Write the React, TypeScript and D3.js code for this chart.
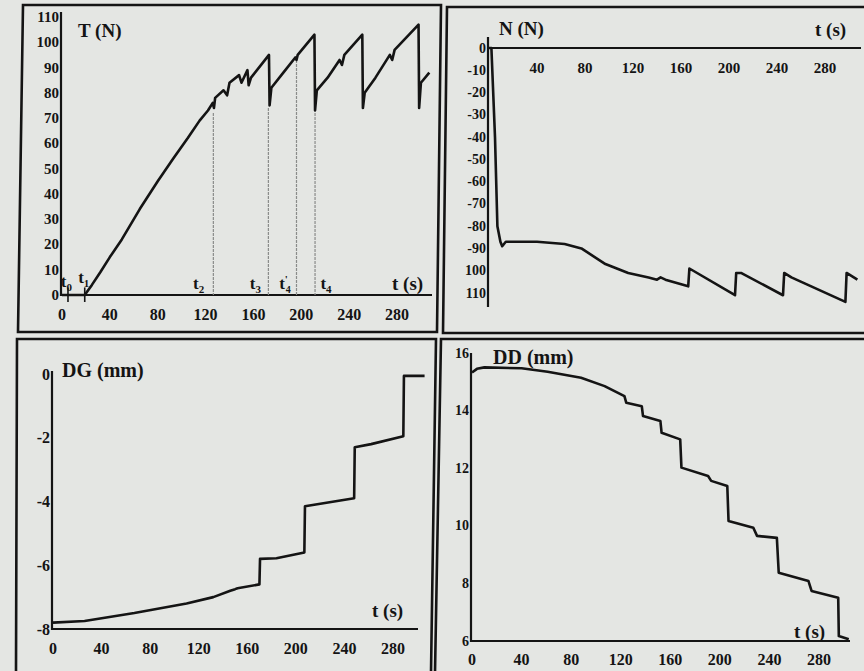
import * as d3 from 'd3';

// ---- data ----
const timeTicks = [0, 40, 80, 120, 160, 200, 240, 280];
const timeTicksN = [40, 80, 120, 160, 200, 240, 280];

// T (N)
const tensionTicks = [0, 10, 20, 30, 40, 50, 60, 70, 80, 90, 100, 110];
const tensionTime = [0, 19, 25, 32, 40, 50, 65, 80, 93, 105, 115, 122, 126, 127, 128, 135, 138, 140, 148, 150, 155, 156, 158, 173, 173.5, 175, 185, 195, 196, 197, 211, 211.5, 213, 222, 232, 234, 236, 251, 251.5, 253, 262, 274, 276, 278, 298, 298.5, 300, 307];
const tensionValue = [0, 0, 4, 9, 15, 22, 34, 45, 54, 62, 69, 73, 76, 74, 78, 81, 79, 84, 87, 84, 89, 83, 86, 95, 75, 82, 88, 94, 93, 95, 103, 73, 81, 86, 93, 91, 95, 103, 74, 80, 86, 95, 93, 97, 107, 74, 84, 88];

// event markers on the T panel
const markerSub = ['0', '1', '2', '3', '4', '4'];
const markerPrime = [false, false, false, false, true, false];
const markerLabelTime = [4, 18.5, 114.5, 162, 186.5, 221];
const markerLabelValue = [3.2, 4.7, 2.4, 2.4, 2.4, 2.4];
const markerLineTime = [126.5, 172.5, 196, 211.5];
const markerLineTop = [72, 74, 93, 72];
const markerTickTime = [5, 19];

// N (N)
const normalTicks = [0, -10, -20, -30, -40, -50, -60, -70, -80, -90, -100, -110];
const normalTickLabels = ['0', '-10', '-20', '-30', '-40', '-50', '-60', '-70', '-80', '-90', '100', '110'];
const normalTime = [0, 2, 5, 7, 9.5, 11, 14, 40, 63, 77, 97, 116, 133, 140, 143, 147, 166, 167, 205, 206, 210, 245, 246, 252, 297, 298, 307];
const normalValue = [0, 0, -40, -80, -87, -89, -87, -87, -88, -90, -97, -101, -103, -104, -103, -104, -107, -99, -111, -101, -101, -111, -101, -103, -114, -101, -104];

// DG (mm)
const dgTicks = [0, -2, -4, -6, -8];
const dgTime = [0, 26, 67, 110, 132, 146, 150, 152, 170, 170.5, 184, 207, 207.5, 248, 248.5, 262, 288.5, 289, 306];
const dgValue = [-7.8, -7.75, -7.5, -7.2, -7.0, -6.8, -6.75, -6.72, -6.6, -5.8, -5.78, -5.6, -4.15, -3.9, -2.3, -2.2, -1.95, -0.06, -0.06];

// DD (mm)
const ddTicks = [6, 8, 10, 12, 14, 16];
const ddTime = [0, 4, 10, 40, 61, 88, 107, 123, 124.5, 137, 138, 152, 153, 168, 169, 190.5, 193, 206, 207, 227, 230, 246, 247.5, 271.5, 274, 295.5, 296, 304];
const ddValue = [15.32, 15.45, 15.5, 15.47, 15.35, 15.14, 14.85, 14.5, 14.27, 14.15, 13.81, 13.64, 13.23, 13.0, 12.02, 11.73, 11.56, 11.38, 10.17, 9.93, 9.65, 9.58, 8.37, 8.08, 7.74, 7.5, 6.17, 6.06];

const INK = '#141414';
const PAPER = '#e4e6e3';
const FONT = '"Liberation Serif", "Times New Roman", serif';

type Scale = d3.ScaleLinear<number, number>;

function Curve({ xs, ys, times, values }: { xs: Scale; ys: Scale; times: number[]; values: number[] }) {
  const line = d3
    .line<number>()
    .x((_, i) => xs(times[i]))
    .y((d) => ys(d));
  return <path d={line(values) || ''} fill="none" stroke={INK} strokeWidth={2.6} strokeLinejoin="round" />;
}

type AxesProps = {
  xs: Scale;
  ys: Scale;
  axisAt: number;
  xEnd: number;
  yTop: number;
  yBottom: number;
  yTicks: number[];
  yLabels: string[];
  yFont: number;
  xTicks: number[];
  xFont: number;
  xLabelY: number;
};

function Axes(p: AxesProps) {
  const x0 = p.xs(0) - 1;
  return (
    <g fontFamily={FONT} fontWeight="bold" fill={INK}>
      <line x1={x0} x2={x0} y1={p.yTop} y2={p.yBottom} stroke={INK} strokeWidth={2.2} />
      <line x1={x0} x2={p.xEnd} y1={p.ys(p.axisAt)} y2={p.ys(p.axisAt)} stroke={INK} strokeWidth={2.2} />
      {p.yTicks.map((v, i) => (
        <text key={'y' + v} x={x0 - 2} y={p.ys(v)} textAnchor="end" dominantBaseline="central" fontSize={p.yFont}>
          {p.yLabels[i]}
        </text>
      ))}
      {p.xTicks.map((v) => (
        <text key={'x' + v} x={p.xs(v)} y={p.xLabelY} textAnchor="middle" dominantBaseline="central" fontSize={p.xFont}>
          {v}
        </text>
      ))}
    </g>
  );
}

function Title({ x, y, text, size = 19 }: { x: number; y: number; text: string; size?: number }) {
  return (
    <text x={x} y={y} fontFamily={FONT} fontWeight="bold" fontSize={size} fill={INK}>
      {text}
    </text>
  );
}

export default function App() {
  // T panel
  const xT = d3.scaleLinear().domain([0, 280]).range([62, 397]);
  const yT = d3.scaleLinear().domain([0, 110]).range([295, 17]);
  // N panel
  const xN = d3.scaleLinear().domain([0, 280]).range([489, 825]);
  const yN = d3.scaleLinear().domain([0, -110]).range([48, 293]);
  // DG panel
  const xG = d3.scaleLinear().domain([0, 280]).range([53, 393]);
  const yG = d3.scaleLinear().domain([-8, 0]).range([629, 374]);
  // DD panel
  const xD = d3.scaleLinear().domain([0, 280]).range([472, 819]);
  const yD = d3.scaleLinear().domain([6, 16]).range([641, 353]);

  return (
    <svg width={864} height={671} style={{ position: 'absolute', left: 0, top: 0 }}>
      <rect width={864} height={671} fill={PAPER} />

      {/* panel frames of the scan */}
      <g stroke={INK} strokeWidth={2.6} fill="none">
        <path d="M23,5 L441,5 L437,332 L18,332 Z" />
        <path d="M866,7 L447,7 L443,333 L866,333" />
        <path d="M16,673 L17,339 L436,339 L431,673" />
        <path d="M866,339 L441,339 L435,673" />
      </g>

      {/* T (N) */}
      <Axes xs={xT} ys={yT} axisAt={0} xEnd={432} yTop={12} yBottom={296} yTicks={tensionTicks}
        yLabels={tensionTicks.map(String)} yFont={15} xTicks={timeTicks} xFont={16} xLabelY={314} />
      {markerLineTime.map((t, i) => (
        <line key={'m' + t} x1={xT(t)} x2={xT(t)} y1={yT(markerLineTop[i])} y2={yT(0)}
          stroke="#8a8c8a" strokeWidth={1.2} strokeDasharray="3,1" />
      ))}
      {markerTickTime.map((t) => (
        <line key={'k' + t} x1={xT(t)} x2={xT(t)} y1={yT(3)} y2={yT(0) + 7} stroke={INK} strokeWidth={1.6} />
      ))}
      <Curve xs={xT} ys={yT} times={tensionTime} values={tensionValue} />
      {markerSub.map((s, i) => (
        <text key={'l' + i} x={xT(markerLabelTime[i]) - 6} y={yT(markerLabelValue[i])}
          fontFamily={FONT} fontWeight="bold" fontSize={17} fill={INK}>
          t
          {markerPrime[i] ? (
            <>
              <tspan dy={-6} fontSize={11}>'</tspan>
              <tspan dx={-2} dy={10} fontSize={10}>{s}</tspan>
            </>
          ) : (
            <tspan dy={4} fontSize={11}>{s}</tspan>
          )}
        </text>
      ))}
      <Title x={78} y={37} text="T (N)" />
      <Title x={392} y={290} text="t (s)" />

      {/* N (N) */}
      <Axes xs={xN} ys={yN} axisAt={0} xEnd={861} yTop={37} yBottom={307} yTicks={normalTicks}
        yLabels={normalTickLabels} yFont={14} xTicks={timeTicksN} xFont={15} xLabelY={68} />
      <Curve xs={xN} ys={yN} times={normalTime} values={normalValue} />
      <Title x={499} y={35} text="N (N)" />
      <Title x={815} y={36} text="t (s)" />

      {/* DG (mm) */}
      <Axes xs={xG} ys={yG} axisAt={-8} xEnd={418} yTop={371} yBottom={630} yTicks={dgTicks}
        yLabels={dgTicks.map(String)} yFont={16} xTicks={timeTicks} xFont={16} xLabelY={648} />
      <Curve xs={xG} ys={yG} times={dgTime} values={dgValue} />
      <Title x={62} y={377} text="DG (mm)" size={20} />
      <Title x={372} y={617} text="t (s)" />

      {/* DD (mm) */}
      <Axes xs={xD} ys={yD} axisAt={6} xEnd={850} yTop={353} yBottom={642} yTicks={ddTicks}
        yLabels={ddTicks.map(String)} yFont={14} xTicks={timeTicks} xFont={16} xLabelY={659} />
      <Curve xs={xD} ys={yD} times={ddTime} values={ddValue} />
      <Title x={493} y={364} text="DD (mm)" size={20} />
      <Title x={794} y={638} text="t (s)" />
    </svg>
  );
}
